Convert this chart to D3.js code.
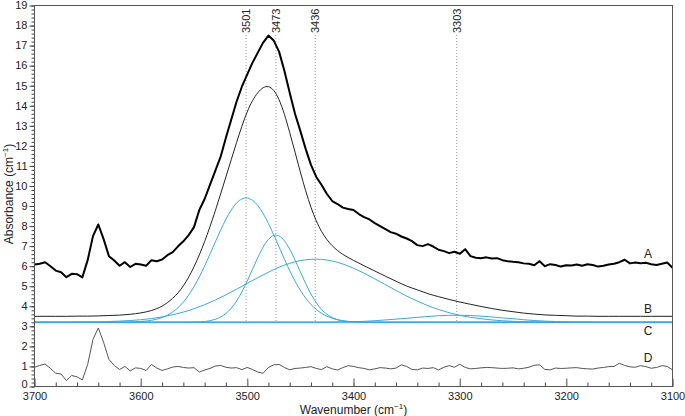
<!DOCTYPE html>
<html>
<head>
<meta charset="utf-8">
<script src="https://cdn.jsdelivr.net/npm/d3@7"></script>
<style>
	body { margin: 0; background: #fff; }
	svg { font-family: "Liberation Sans", Arial, sans-serif; }
	.tick text { font-size: 11px; fill: #222; }
</style>
</head>
<body>
<script>

// wavenumber grids (cm-1)
var waveNoisy = d3.range(3700, 3099, -5);
var waveFit = d3.range(3700, 3099, -10);

// A: measured spectrum (5 cm-1 steps)
var absA = [
	6.08, 6.12, 6.20, 6.00, 5.78, 5.70, 5.45, 5.62, 5.60, 5.44,
	6.30, 7.50, 8.08, 7.35, 6.50, 6.28, 6.02, 6.20, 5.96, 6.12,
	6.08, 6.02, 6.30, 6.25, 6.33, 6.55, 6.70, 6.99, 7.24, 7.55,
	7.95, 8.80, 9.35, 10.05, 10.75, 11.45, 12.40, 13.30, 14.20, 14.95,
	15.55, 16.15, 16.65, 17.15, 17.50, 17.25, 16.70, 15.75, 14.65, 13.60,
	12.75, 11.85, 11.05, 10.45, 10.05, 9.60, 9.25, 9.10, 8.92, 8.85,
	8.80, 8.60, 8.45, 8.33, 8.15, 8.00, 7.85, 7.70, 7.62, 7.48,
	7.38, 7.25, 7.05, 7.00, 7.10, 6.98, 6.82, 6.75, 6.65, 6.72,
	6.62, 6.85, 6.50, 6.42, 6.40, 6.44, 6.38, 6.40, 6.30, 6.25,
	6.22, 6.20, 6.14, 6.12, 6.05, 6.25, 6.00, 6.10, 6.06, 5.98,
	6.05, 6.03, 6.08, 6.02, 6.10, 6.06, 5.98, 6.02, 6.08, 6.12,
	6.20, 6.32, 6.14, 6.18, 6.15, 6.17, 6.10, 6.06, 6.12, 6.18,
	5.92
];

// D: residual (5 cm-1 steps)
var residD = [
	0.96, 1.05, 1.12, 0.90, 0.66, 0.62, 0.30, 0.55, 0.48, 0.33,
	1.10, 2.35, 2.92, 2.20, 1.35, 1.05, 0.85, 1.00, 0.78, 0.93,
	0.90, 0.80, 1.10, 0.92, 0.80, 0.88, 0.97, 1.00, 0.95, 0.92,
	0.94, 0.72, 0.82, 0.90, 1.02, 1.05, 0.96, 0.92, 0.94, 0.84,
	0.95, 0.85, 0.72, 0.66, 0.95, 1.08, 1.10, 0.95, 0.83, 0.90,
	0.92, 0.95, 0.99, 0.90, 0.84, 0.99, 0.88, 0.82, 0.94, 1.04,
	1.00, 0.94, 0.90, 0.83, 0.88, 0.94, 0.92, 0.88, 0.92, 1.08,
	1.00, 0.85, 0.83, 0.92, 0.90, 0.94, 0.83, 0.96, 1.04, 0.96,
	1.11, 0.95, 0.88, 0.90, 0.93, 0.95, 0.94, 0.92, 0.90, 0.91,
	0.93, 0.88, 0.91, 0.96, 1.06, 1.08, 0.85, 0.83, 0.92, 0.90,
	0.91, 0.93, 0.94, 0.90, 0.88, 0.87, 0.92, 0.95, 0.99, 1.00,
	1.16, 1.05, 0.98, 0.96, 1.04, 0.99, 0.91, 0.95, 1.04, 1.00,
	0.83
];

// B: total fit (10 cm-1 steps)
var fitB = [
	3.50, 3.50, 3.50, 3.50, 3.51, 3.51, 3.52, 3.54, 3.56, 3.60,
	3.67, 3.79, 4.01, 4.40, 5.02, 5.97, 7.23, 8.76, 10.45, 12.16,
	13.69, 14.65, 14.95, 14.30, 12.67, 10.70, 8.94, 7.73, 7.02, 6.59,
	6.29, 6.02, 5.76, 5.50, 5.25, 5.01, 4.82, 4.63, 4.48, 4.34,
	4.21, 4.10, 3.99, 3.89, 3.80, 3.73, 3.66, 3.61, 3.57, 3.55,
	3.53, 3.51, 3.51, 3.50, 3.50, 3.50, 3.50, 3.50, 3.50, 3.50,
	3.50
];

// C: fitted component bands (10 cm-1 steps)
var band3501 = [
	3.20, 3.20, 3.20, 3.20, 3.20, 3.20, 3.20, 3.20, 3.20, 3.21,
	3.24, 3.30, 3.44, 3.72, 4.21, 4.98, 6.01, 7.20, 8.34, 9.15,
	9.40, 9.02, 8.13, 6.96, 5.78, 4.80, 4.09, 3.65, 3.40, 3.28,
	3.23, 3.21, 3.20, 3.20, 3.20, 3.20, 3.20, 3.20, 3.20, 3.20,
	3.20, 3.20, 3.20, 3.20, 3.20, 3.20, 3.20, 3.20, 3.20, 3.20,
	3.20, 3.20, 3.20, 3.20, 3.20, 3.20, 3.20, 3.20, 3.20, 3.20,
	3.20
];
var band3473 = [
	3.20, 3.20, 3.20, 3.20, 3.20, 3.20, 3.20, 3.20, 3.20, 3.20,
	3.20, 3.20, 3.20, 3.20, 3.20, 3.21, 3.24, 3.35, 3.64, 4.26,
	5.25, 6.43, 7.34, 7.51, 6.85, 5.72, 4.61, 3.84, 3.44, 3.27,
	3.22, 3.20, 3.20, 3.20, 3.20, 3.20, 3.20, 3.20, 3.20, 3.20,
	3.20, 3.20, 3.20, 3.20, 3.20, 3.20, 3.20, 3.20, 3.20, 3.20,
	3.20, 3.20, 3.20, 3.20, 3.20, 3.20, 3.20, 3.20, 3.20, 3.20,
	3.20
];
var band3436 = [
	3.20, 3.20, 3.20, 3.20, 3.21, 3.21, 3.22, 3.24, 3.26, 3.29,
	3.33, 3.39, 3.47, 3.58, 3.71, 3.88, 4.08, 4.31, 4.57, 4.85,
	5.14, 5.43, 5.70, 5.95, 6.14, 6.28, 6.34, 6.34, 6.26, 6.11,
	5.90, 5.65, 5.37, 5.08, 4.79, 4.51, 4.26, 4.03, 3.84, 3.68,
	3.55, 3.45, 3.38, 3.32, 3.28, 3.25, 3.23, 3.22, 3.21, 3.21,
	3.20, 3.20, 3.20, 3.20, 3.20, 3.20, 3.20, 3.20, 3.20, 3.20,
	3.20
];
var band3303 = [
	3.20, 3.20, 3.20, 3.20, 3.20, 3.20, 3.20, 3.20, 3.20, 3.20,
	3.20, 3.20, 3.20, 3.20, 3.20, 3.20, 3.20, 3.20, 3.20, 3.20,
	3.20, 3.20, 3.20, 3.20, 3.20, 3.20, 3.20, 3.20, 3.21, 3.22,
	3.23, 3.25, 3.28, 3.32, 3.36, 3.40, 3.45, 3.49, 3.53, 3.55,
	3.55, 3.54, 3.51, 3.47, 3.42, 3.38, 3.33, 3.29, 3.26, 3.24,
	3.23, 3.21, 3.21, 3.20, 3.20, 3.20, 3.20, 3.20, 3.20, 3.20,
	3.20
];
var baselineC = 3.2;

// peak positions and curve labels
var peaks = [3501, 3473, 3436, 3303];
var curveLabels = ["A", "B", "C", "D"];
var labelLevels = [6.6, 3.85, 2.8, 1.45];

var xMajor = d3.range(3700, 3099, -100);
var xMinor = d3.range(3700, 3099, -20);
var yMajor = d3.range(0, 20, 1);
var yMinor = d3.range(0, 19.01, 0.2);

var width = 685, height = 416;
var margin = {top: 5.5, right: 12.5, bottom: 29.5, left: 34.5};

var svg = d3.select("body").append("svg")
	.attr("width", width)
	.attr("height", height);

var x = d3.scaleLinear()
	.domain([3700, 3100])
	.range([margin.left, width - margin.right]);

var y = d3.scaleLinear()
	.domain([0, 19])
	.range([height - margin.bottom, margin.top]);

var blue = "#3aa8e0";

// dotted peak markers
svg.selectAll(".peakline")
	.data(peaks)
	.enter()
	.append("line")
	.attr("class", "peakline")
	.attr("x1", d => x(d))
	.attr("x2", d => x(d))
	.attr("y1", 35)
	.attr("y2", y(baselineC))
	.attr("stroke", "#9a9a9a")
	.attr("stroke-width", 1)
	.attr("stroke-dasharray", "1,2");

svg.selectAll(".peaklabel")
	.data(peaks)
	.enter()
	.append("text")
	.attr("class", "peaklabel")
	.attr("transform", d => "translate(" + x(d) + ",33)rotate(-90)")
	.attr("dy", "0.35em")
	.attr("font-size", "11px")
	.attr("fill", "#222")
	.text(d => d);

var lineFit = d3.line()
	.x((d, i) => x(waveFit[i]))
	.y(d => y(d))
	.curve(d3.curveNatural);

var lineNoisy = d3.line()
	.x((d, i) => x(waveNoisy[i]))
	.y(d => y(d));

// baseline C
svg.append("line")
	.attr("x1", x(3700))
	.attr("x2", x(3100))
	.attr("y1", y(baselineC))
	.attr("y2", y(baselineC))
	.attr("stroke", "#6cc0ec")
	.attr("stroke-width", 2);

// component bands
[band3501, band3473, band3436, band3303].forEach(function(b){
	svg.append("path")
		.attr("d", lineFit(b))
		.attr("fill", "none")
		.attr("stroke", blue)
		.attr("stroke-width", 1);
});

// total fit B
svg.append("path")
	.attr("d", lineFit(fitB))
	.attr("fill", "none")
	.attr("stroke", "#222")
	.attr("stroke-width", 1);

// residual D
svg.append("path")
	.attr("d", lineNoisy(residD))
	.attr("fill", "none")
	.attr("stroke", "#555")
	.attr("stroke-width", 1);

// spectrum A
svg.append("path")
	.attr("d", lineNoisy(absA))
	.attr("fill", "none")
	.attr("stroke", "#000")
	.attr("stroke-width", 2)
	.attr("stroke-linejoin", "round");

// curve letters
svg.selectAll(".curvelabel")
	.data(curveLabels)
	.enter()
	.append("text")
	.attr("class", "curvelabel")
	.attr("x", x(3123))
	.attr("y", (d, i) => y(labelLevels[i]))
	.attr("dy", "0.35em")
	.attr("text-anchor", "middle")
	.attr("font-size", "12px")
	.attr("fill", "#222")
	.text(d => d);

// axes
var xb = height - margin.bottom;

svg.append("g")
	.attr("transform", "translate(0," + xb + ")")
	.call(d3.axisBottom(x).tickValues(xMinor).tickSize(-4).tickFormat(""))
	.call(g => g.select(".domain").remove())
	.selectAll("line").attr("stroke", "#444");

svg.append("g")
	.attr("transform", "translate(0," + xb + ")")
	.call(d3.axisBottom(x).tickValues(xMajor).tickSize(-8).tickPadding(6).tickFormat(d3.format("d")))
	.call(g => g.select(".domain").remove())
	.call(g => g.selectAll("line").attr("stroke", "#888").attr("stroke-width", 1.5))
	.selectAll("text").attr("dy", "0.71em");

svg.append("g")
	.attr("transform", "translate(" + margin.left + ",0)")
	.call(d3.axisLeft(y).tickValues(yMinor).tickSize(3).tickFormat(""))
	.call(g => g.select(".domain").remove())
	.selectAll("line").attr("stroke", "#444");

svg.append("g")
	.attr("transform", "translate(" + margin.left + ",0)")
	.call(d3.axisLeft(y).tickValues(yMajor).tickSize(5).tickPadding(2).tickFormat(d3.format("d")))
	.call(g => g.select(".domain").remove())
	.call(g => g.selectAll("line").attr("stroke", "#444"))
	.selectAll("text").attr("dy", d => d === 0 ? "0.05em" : "0.3em");

// frame
svg.append("rect")
	.attr("x", margin.left)
	.attr("y", margin.top)
	.attr("width", width - margin.left - margin.right)
	.attr("height", height - margin.top - margin.bottom)
	.attr("fill", "none")
	.attr("stroke", "#555")
	.attr("stroke-width", 1);

// axis titles
var yt = svg.append("text")
	.attr("transform", "translate(13," + 194 + ")rotate(-90)")
	.attr("text-anchor", "middle")
	.attr("font-size", "12px")
	.attr("fill", "#222");
yt.append("tspan").text("Absorbance (cm");
yt.append("tspan").attr("font-size", "8px").attr("dy", -5).text("\u22121");
yt.append("tspan").attr("dy", 5).text(")");

var xt = svg.append("text")
	.attr("x", (margin.left + width - margin.right) / 2)
	.attr("y", 414)
	.attr("text-anchor", "middle")
	.attr("font-size", "12px")
	.attr("fill", "#222");
xt.append("tspan").text("Wavenumber (cm");
xt.append("tspan").attr("font-size", "8px").attr("dy", -5).text("\u22121");
xt.append("tspan").attr("dy", 5).text(")");

</script>
</body>
</html>
